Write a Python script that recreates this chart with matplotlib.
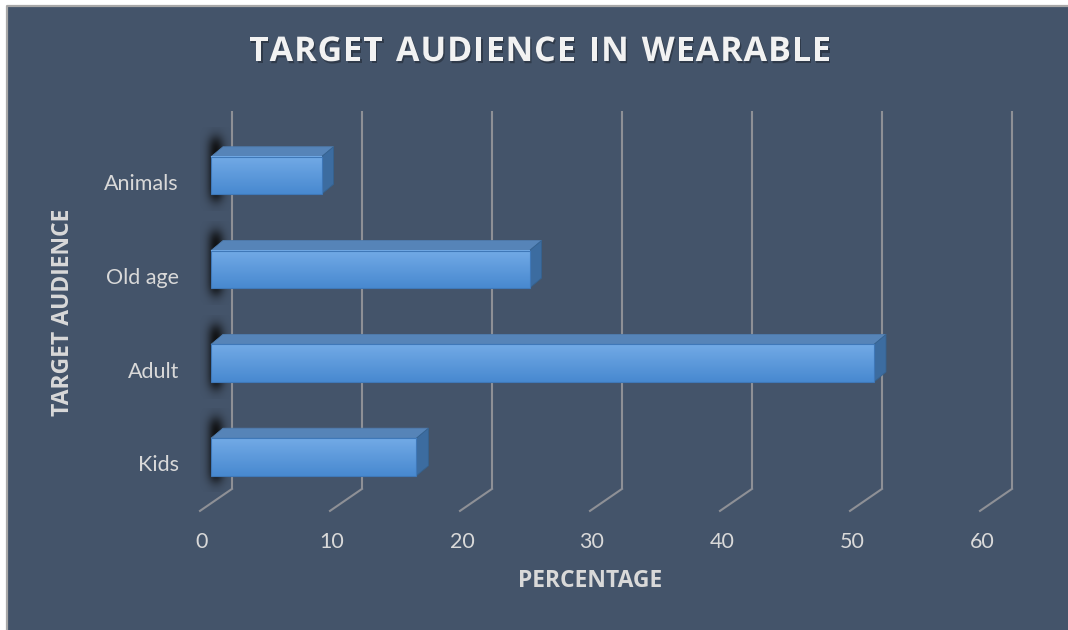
import numpy as np
import matplotlib
matplotlib.use("Agg")
import matplotlib.pyplot as plt
from matplotlib.patches import Polygon, Rectangle
from matplotlib.lines import Line2D
from matplotlib.colors import LinearSegmentedColormap
import matplotlib.patheffects as pe

# ---------------- data ----------------
categories = ["Kids", "Adult", "Old age", "Animals"]
values = [15.8, 51.0, 24.5, 8.5]
x_ticks = [0, 10, 20, 30, 40, 50, 60]
title = "TARGET AUDIENCE IN WEARABLE"
x_title = "PERCENTAGE"
y_title = "TARGET AUDIENCE"

# ---------------- style ----------------
W, H, DPI = 1068, 630, 100
BG = "#44546A"
GRID = "#8E9096"
TXT = "#D9D9D9"
TXT_B = "#F2F2F2"
FONT = "Lato"
FONT_B = "Open Sans"
FRONT_TOP, FRONT_BOT = "#72AAE6", "#4889D0"
TOP_FACE = "#5684B8"
SIDE_FACE = "#3C6CA0"

fig = plt.figure(figsize=(W / DPI, H / DPI), dpi=DPI)
fig.patch.set_facecolor("white")
fig.add_artist(Rectangle((7 / W, -0.02), 1.05, (H - 6) / H + 0.02,
                         transform=fig.transFigure, facecolor=BG,
                         edgecolor="none", zorder=0))
fig.add_artist(Line2D([7 / W, 7 / W, 1.02], [-0.02, (H - 6) / H, (H - 6) / H],
                      transform=fig.transFigure, color="#A8A8A8", lw=1.6, zorder=0.5))

# front plane of the bars: x 0..60 -> px 211..991, y -0.5..3.5 -> px 504..129
x0_px, x_span_px = 211, 780
y_bot_px, y_top_px = 503.9, 128.6
ax = fig.add_axes([x0_px / W, (H - y_bot_px) / H, x_span_px / W, (y_bot_px - y_top_px) / H])
ax.set_facecolor("none")
ax.axis("off")

ux = 60 / x_span_px              # data units per pixel (x)
uy = 4.0 / (y_bot_px - y_top_px)  # data units per pixel (y)

# offsets (px): back wall, front floor, bar depth
BACK = (21 * ux, 15 * uy)
FLOOR = (-11 * ux, -7 * uy)
DEPTH = (12 * ux, 10 * uy)

# back-wall gridlines and floor lines
for v in x_ticks:
    ax.plot([v + BACK[0]] * 2, [-0.5 + BACK[1], 3.5 + BACK[1] + 2.5 * uy],
            color=GRID, lw=1.5, clip_on=False, zorder=1, solid_capstyle="butt")
    ax.plot([v + BACK[0], v + FLOOR[0]], [-0.5 + BACK[1], -0.5 + FLOOR[1]],
            color=GRID, lw=1.5, clip_on=False, zorder=1)

# bars
half = 0.2
grad = np.linspace(1, 0, 64).reshape(-1, 1)
cmap_front = LinearSegmentedColormap.from_list("front", [FRONT_BOT, FRONT_TOP])

# shadow image
nx, ny = 60, 120
sx = np.linspace(-1, 1, nx)
sy = np.linspace(-1, 1, ny)
ax_alpha = np.exp(-0.5 * (sx / 0.36) ** 2)
ay_alpha = 1 / (1 + np.exp((np.abs(sy) - 0.74) / 0.09))
alpha = 0.95 * np.outer(ay_alpha, ax_alpha)
shadow = np.zeros((ny, nx, 4))
shadow[..., :3] = 0.05
shadow[..., 3] = alpha

for i, (cat, v) in enumerate(zip(categories, values)):
    c = i
    sc_x = 5 * ux
    sc_y = c + 6.5 * uy
    ax.imshow(shadow, extent=[sc_x - 16 * ux, sc_x + 16 * ux, sc_y - 42 * uy, sc_y + 42 * uy],
              aspect="auto", zorder=2, interpolation="bilinear", clip_on=False)
    ax.add_patch(Polygon([(0, c + half), (v, c + half), (v + DEPTH[0], c + half + DEPTH[1]),
                          (DEPTH[0], c + half + DEPTH[1])], closed=True,
                         facecolor=TOP_FACE, edgecolor="#4F7CAE", lw=0.6, zorder=3, clip_on=False))
    ax.add_patch(Polygon([(v, c - half), (v, c + half), (v + DEPTH[0], c + half + DEPTH[1]),
                          (v + DEPTH[0], c - half + DEPTH[1])], closed=True,
                         facecolor=SIDE_FACE, edgecolor="#35628F", lw=0.6, zorder=3, clip_on=False))
    ax.imshow(grad, extent=[0, v, c - half, c + half], cmap=cmap_front, aspect="auto",
              zorder=4, interpolation="bilinear", vmin=0, vmax=1)
    ax.add_patch(Rectangle((0, c - half), v, 2 * half, facecolor="none",
                           edgecolor="#3F78B8", lw=0.8, zorder=5))
    ax.text(FLOOR[0] - 21 * ux, c + FLOOR[1] - 1.5 * uy, cat, ha="right", va="center",
            fontsize=15.5, color=TXT, family=FONT, clip_on=False)

ax.set_xlim(0, 60)
ax.set_ylim(-0.5, 3.5)

# x tick labels
for v in x_ticks:
    ax.text(v + FLOOR[0] + 2 * ux, -0.5 - 38 * uy, str(v), ha="center", va="center",
            fontsize=15.5, color=TXT, family=FONT, clip_on=False)

# title with letter spacing (per-character placement)
renderer = fig.canvas.get_renderer()
t_size, t_left, t_right, t_y = 24.5, 249, 831, 52
widths = []
for ch in title:
    tt = fig.text(0, 0, ch if ch != " " else "n", fontsize=t_size, fontweight="bold", family=FONT_B)
    w = tt.get_window_extent(renderer).width
    tt.remove()
    widths.append(w * (0.5 if ch == " " else 1.0))
gap = ((t_right - t_left) - sum(widths)) / (len(title) - 1)
xpos = t_left
for ch, w in zip(title, widths):
    if ch != " ":
        fig.text(xpos / W, 1 - t_y / H, ch, ha="left", va="center", fontsize=t_size,
                 fontweight="bold", color=TXT_B, family=FONT_B, path_effects=[
                     pe.withSimplePatchShadow(offset=(1.0, -1.6), shadow_rgbFace="black", alpha=0.3)])
    xpos += w + gap

fig.text(590 / W, 1 - 581 / H, x_title, ha="center", va="center", fontsize=16.5,
         fontweight="bold", color=TXT, family=FONT_B)
fig.text(63 / W, 1 - 312 / H, y_title, ha="center", va="center", fontsize=16.5,
         fontweight="bold", color=TXT, family=FONT_B, rotation=90)

fig.savefig("out.png", dpi=DPI, facecolor=fig.get_facecolor())
